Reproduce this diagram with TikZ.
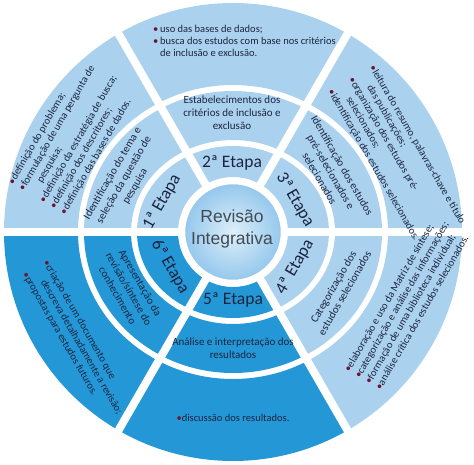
\documentclass[tikz,border=0pt]{standalone}
\usepackage{fontspec}
\setmainfont{Carlito}
\newfontfamily\arialf{Liberation Sans}
\definecolor{lb}{RGB}{170,210,238}
\definecolor{db}{RGB}{36,152,214}
\definecolor{txt}{RGB}{28,36,64}
\definecolor{bul}{RGB}{110,20,50}
\definecolor{ctext}{RGB}{66,74,86}
\definecolor{corein}{RGB}{222,239,250}
\definecolor{coreout}{RGB}{148,199,236}
\newcommand\ringsector[7]{%
  \begin{scope}
    \clip (0,0) -- (#1:330) -- (#2:330) -- cycle;
    \fill[#7, even odd rule] (0,0) ellipse[x radius=#5pt, y radius=#6pt]
                             (0,0) ellipse[x radius=#3pt, y radius=#4pt];
  \end{scope}}
\newcommand\bl{{\color{bul}\textbullet}}
\newcommand\ind{\phantom{\bl}}
\tikzset{
  etapa/.style={font=\fontsize{17.5}{20}\selectfont, text=txt, inner sep=0pt},
  midtxt/.style={font=\fontsize{11}{13}\selectfont, text=txt, align=center, inner sep=0pt},
  outtxt/.style={font=\fontsize{10.5}{12}\selectfont, text=txt, align=left, inner sep=0pt},
  gap/.style={white, line width=8pt}
}
\begin{document}
\begin{tikzpicture}[x=1pt,y=1pt]
\useasboundingbox (-233,-232) rectangle (241,232);
% sectors: 1 (120-180), 2 (60-120), 3 (0-60), 4 (300-360), 5 (240-300), 6 (180-240)
\foreach \a/\b/\c in {120/180/lb, 60/120/lb, 0/60/lb, -60/0/lb, 240/300/db, 180/240/db}{
  \ringsector{\a}{\b}{55}{55}{96}{86}{\c}
  \ringsector{\a}{\b}{102}{92}{149}{141}{\c}
  \ringsector{\a}{\b}{155}{147}{229}{229}{\c}
}
\foreach \a in {0,60,...,300}{
  \draw[gap] (0,0) -- (\a:240);
}
\node[circle, minimum size=98pt, inner sep=0pt, draw=white, line width=2.5pt,
      inner color=corein, outer color=coreout] (core) at (0,0) {};
\node[font=\arialf\fontsize{17.5}{22}\selectfont, text=ctext, align=center] (coretxt) at (-1,3) {Revisão\\Integrativa};

% etapa labels
\node[etapa, rotate=60]  (e1) at (-71,30) {1ª Etapa};
\node[etapa]             (e2) at (-1,69) {2ª Etapa};
\node[etapa, rotate=-60] (e3) at (62,32) {3ª Etapa};
\node[etapa, rotate=60]  (e4) at (62,-35) {4ª Etapa};
\node[etapa]             (e5) at (0,-68) {5ª Etapa};
\node[etapa, rotate=-60] (e6) at (-63,-35) {6ª Etapa};

% middle ring
\node[midtxt, rotate=60]  (m1) at (-109,52) {Identificação do tema e\\seleção da questão de\\pesquisa};
\node[midtxt]             (m2) at (-1,119) {Estabelecimentos dos\\critérios de inclusão e\\exclusão};
\node[midtxt, rotate=-60] (m3) at (98,60) {Identificação dos estudos\\pré-selecionados e\\selecionados};
\node[midtxt, rotate=60]  (m4) at (106,-58) {Categorização dos\\estudos selecionados};
\node[midtxt]             (m5) at (0,-116) {Análise e interpretação dos\\resultados};
\node[midtxt, rotate=-60] (m6) at (-104,-57) {Apresentação da\\revisão/síntese do\\conhecimento};

% outer ring
\node[outtxt, rotate=60, anchor=west] (o1) at (-196,33) {\bl definição do problema;\\\bl formulação de uma pergunta de\\\ind\quad pesquisa;\\\bl definição da estratégia de busca;\\\bl definição dos descritores;\\\bl definição das bases de dados.};
\node[outtxt, anchor=west] (o2) at (-80,191) {\bl\,uso das bases de dados;\\\bl\,busca dos estudos com base nos critérios\\\ind\,de inclusão e exclusão.};
\node[outtxt, rotate=-60, anchor=west] (o3) at (118,154) {\bl leitura do resumo, palavras-chave e título\\\ind\quad das publicações;\\\bl organização dos estudos pré-\\\ind\quad selecionados;\\\bl identificação dos estudos selecionados.};
\node[outtxt, rotate=60, anchor=west] (o4) at (129,-148) {\bl elaboração e uso da Matriz de síntese;\\\bl categorização e análise das informações;\\\bl formação de uma biblioteca individual;\\\bl análise crítica dos estudos selecionados.};
\node[outtxt] (o5) at (0,-186) {\bl discussão dos resultados.};
\node[outtxt, rotate=-60, anchor=west] (o6) at (-198,-35) {\bl criação de um documento que\\\ind\quad descreva detalhadamente a revisão;\\\bl propostas para estudos futuros.};
\end{tikzpicture}
\end{document}
